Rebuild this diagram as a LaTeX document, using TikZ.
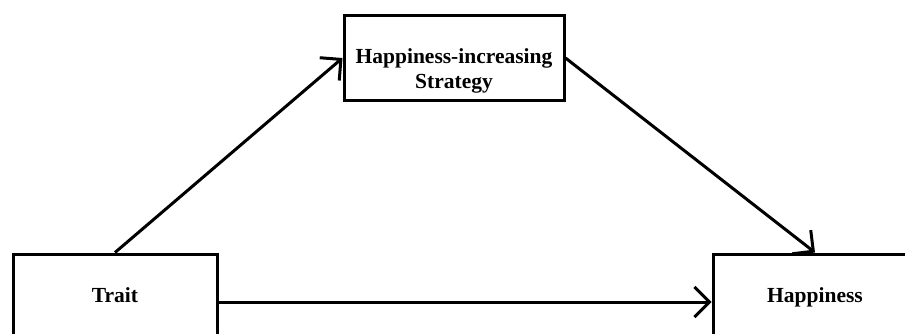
\documentclass[tikz,border=0pt]{standalone}
\usepackage{fontspec}
\setmainfont{Liberation Serif}
\usepackage{tikz}
\usetikzlibrary{arrows.meta,positioning}

\begin{document}
\begin{tikzpicture}[x=1pt, y=-1pt,
  box/.style={draw, line width=3pt, minimum width=204pt, minimum height=96pt, align=center,
    inner sep=0pt, font=\fontsize{21.5}{25}\selectfont\bfseries},
  onerow/.style={text height=0.7em, text depth=0.6em},
  arr/.style={-{Straight Barb[length=15pt,width=30pt,line width=3pt]}, line width=3pt}]

\clip (0,0) rectangle (905,333);

% --- blocchi ---
\node[box, onerow] (trait) at (115,302) {Trait};
\node[box, onerow] (happy) at (815,302) {Happiness};
\node[box, minimum width=220pt, minimum height=85pt, text height=62pt, text depth=2pt] (strat) at (454,58) {Happiness-increasing\\Strategy};

% --- frecce ---
\draw[arr] (trait.north) -- (strat.west);
\draw[arr] (strat.east) -- (happy.north);
\draw[arr] (trait.east) -- (happy.west);
\end{tikzpicture}
\end{document}
